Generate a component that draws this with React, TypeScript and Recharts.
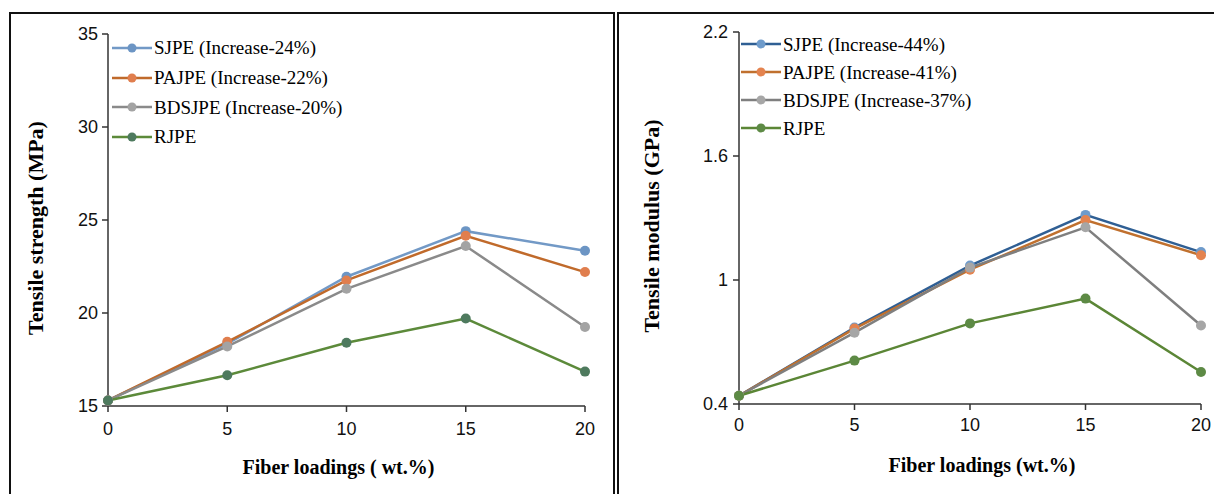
import React from "react";
import {
  LineChart,
  Line,
  XAxis,
  YAxis,
  Legend,
  Label,
} from "recharts";

// fiber loading (wt.%)
const loadings = [0, 5, 10, 15, 20];
const loadingTicks = [0, 5, 10, 15, 20];

// tensile strength (MPa)
const strengthSJPE = [15.3, 18.35, 21.95, 24.4, 23.35];
const strengthPAJPE = [15.3, 18.45, 21.75, 24.15, 22.2];
const strengthBDSJPE = [15.3, 18.2, 21.3, 23.6, 19.25];
const strengthRJPE = [15.3, 16.65, 18.4, 19.7, 16.85];
const strengthTicks = [15, 20, 25, 30, 35];

// tensile modulus (GPa)
const modulusSJPE = [0.44, 0.77, 1.07, 1.315, 1.135];
const modulusPAJPE = [0.44, 0.765, 1.05, 1.29, 1.12];
const modulusBDSJPE = [0.44, 0.745, 1.06, 1.255, 0.78];
const modulusRJPE = [0.44, 0.61, 0.79, 0.91, 0.555];
const modulusTicks = [0.4, 1, 1.6, 2.2];

const strengthNames = [
  "SJPE (Increase-24%)",
  "PAJPE (Increase-22%)",
  "BDSJPE (Increase-20%)",
  "RJPE",
];
const modulusNames = [
  "SJPE (Increase-44%)",
  "PAJPE (Increase-41%)",
  "BDSJPE (Increase-37%)",
  "RJPE",
];

const keys = ["SJPE", "PAJPE", "BDSJPE", "RJPE"];

const strengthLines = ["#7299C6", "#C06A2B", "#8A8A8A", "#5C8A3A"];
const strengthDots = ["#6C95C4", "#E07E4E", "#A3A3A3", "#4E7A5E"];
const modulusLines = ["#2F5F94", "#C0702E", "#7F7F7F", "#5B8636"];
const modulusDots = ["#6E9BCB", "#E4834F", "#A6A6A6", "#5D8A45"];

const buildRows = (series: number[][]) =>
  loadings.map((x, i) => {
    const row: Record<string, number> = { x };
    keys.forEach((k, j) => (row[k] = series[j][i]));
    return row;
  });

const strengthData = buildRows([strengthSJPE, strengthPAJPE, strengthBDSJPE, strengthRJPE]);
const modulusData = buildRows([modulusSJPE, modulusPAJPE, modulusBDSJPE, modulusRJPE]);

const serif = "'Liberation Serif', 'Times New Roman', serif";
const sans = "'Liberation Sans', Arial, sans-serif";

function LegendBox({ names, lines, dots, rowH }: any) {
  return (
    <div style={{ fontFamily: serif, fontSize: 19, color: "#000", lineHeight: 1 }}>
      {names.map((n: string, i: number) => (
        <div key={n} style={{ display: "flex", alignItems: "center", height: rowH }}>
          <svg width={42} height={12} style={{ marginRight: 1, flex: "none" }}>
            <line x1={1} y1={6} x2={41} y2={6} stroke={lines[i]} strokeWidth={2.5} />
            <circle cx={21} cy={6} r={4.5} fill={dots[i]} />
          </svg>
          <span style={{ whiteSpace: "nowrap" }}>{n}</span>
        </div>
      ))}
    </div>
  );
}

function Panel(props: any) {
  const {
    data, width, margin, yWidth, domain, ticks, names, lines, dots,
    yTitle, xTitle, yTitleOffset, xTitleDx, legendPos, rowH, yTickMargin, xTickMargin,
  } = props;
  return (
    <LineChart width={width} height={494} data={data} margin={margin}>
      <XAxis
        dataKey="x"
        type="number"
        domain={[0, 20]}
        ticks={loadingTicks}
        height={30}
        axisLine={{ stroke: "#333", strokeWidth: 1.5 }}
        tickLine={{ stroke: "#333", strokeWidth: 1.5 }}
        tickSize={6}
        tickMargin={xTickMargin}
        tick={{ fill: "#111", fontSize: 18, fontFamily: sans }}
      >
        <Label
          value={xTitle}
          position="bottom"
          offset={24}
          dx={xTitleDx}
          style={{ fontFamily: serif, fontWeight: "bold", fontSize: 20, fill: "#000" }}
        />
      </XAxis>
      <YAxis
        type="number"
        domain={domain}
        ticks={ticks}
        width={yWidth}
        axisLine={{ stroke: "#333", strokeWidth: 1.5 }}
        tickLine={{ stroke: "#333", strokeWidth: 1.5 }}
        tickSize={6}
        tickMargin={yTickMargin}
        tick={{ fill: "#111", fontSize: 18, fontFamily: sans }}
      >
        <Label
          value={yTitle}
          angle={-90}
          position="insideLeft"
          offset={yTitleOffset}
          dy={8}
          style={{ fontFamily: serif, fontWeight: "bold", fontSize: 22, fill: "#000", textAnchor: "middle" }}
        />
      </YAxis>
      <Legend
        layout="vertical"
        align="center"
        verticalAlign="middle"
        wrapperStyle={{ left: legendPos[0], top: legendPos[1], width: "auto" }}
        content={() => <LegendBox names={names} lines={lines} dots={dots} rowH={rowH} />}
      />
      {keys.map((k, i) => (
        <Line
          key={k}
          dataKey={k}
          name={names[i]}
          type="linear"
          stroke={lines[i]}
          strokeWidth={2.5}
          dot={{ r: 5, fill: dots[i], stroke: dots[i], strokeWidth: 0 }}
          activeDot={false}
          isAnimationActive={false}
        />
      ))}
    </LineChart>
  );
}

export default function App() {
  return (
    <div
      style={{
        position: "fixed",
        left: 0,
        top: 0,
        width: 1214,
        height: 494,
        background: "#fff",
        overflow: "hidden",
      }}
    >
      <div
        style={{
          position: "absolute",
          left: 9,
          top: 12,
          width: 602,
          height: 500,
          border: "2px solid #111",
        }}
      />
      <div
        style={{
          position: "absolute",
          left: 617,
          top: 12,
          width: 620,
          height: 500,
          border: "2px solid #111",
        }}
      />
      <div style={{ position: "absolute", left: 0, top: 0 }}>
        <Panel
          data={strengthData}
          width={614}
          margin={{ top: 34, right: 29, left: 20, bottom: 58 }}
          yWidth={88}
          domain={[15, 35]}
          ticks={strengthTicks}
          names={strengthNames}
          lines={strengthLines}
          dots={strengthDots}
          yTitle="Tensile strength (MPa)"
          xTitle="Fiber loadings ( wt.%)"
          yTitleOffset={15}
          xTitleDx={-8}
          legendPos={[111, 33]}
          rowH={29.7}
          yTickMargin={4}
          xTickMargin={10}
        />
      </div>
      <div style={{ position: "absolute", left: 619, top: 0 }}>
        <Panel
          data={modulusData}
          width={595}
          margin={{ top: 32, right: 13, left: 14, bottom: 60 }}
          yWidth={106}
          domain={[0.4, 2.2]}
          ticks={modulusTicks}
          names={modulusNames}
          lines={modulusLines}
          dots={modulusDots}
          yTitle="Tensile modulus (GPa)"
          xTitle="Fiber loadings (wt.%)"
          yTitleOffset={18}
          xTitleDx={12}
          legendPos={[121, 30]}
          rowH={28}
          yTickMargin={5}
          xTickMargin={8}
        />
      </div>
    </div>
  );
}
